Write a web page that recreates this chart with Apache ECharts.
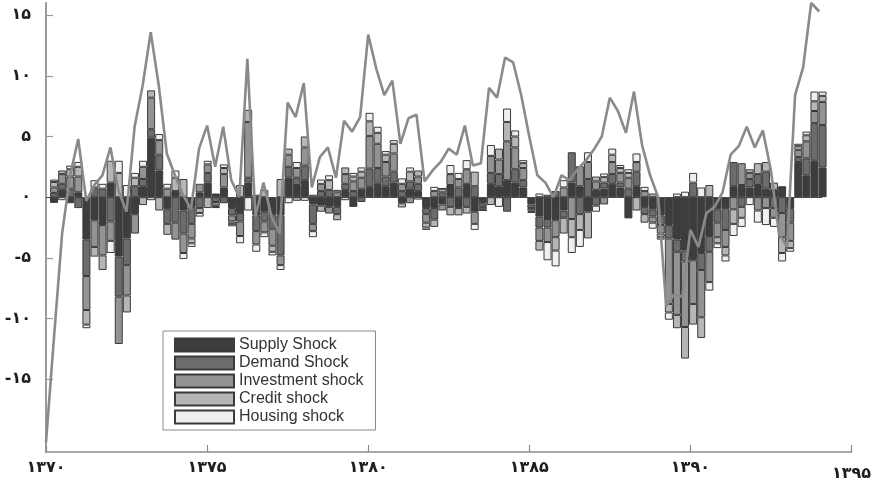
<!DOCTYPE html>
<html>
<head>
<meta charset="utf-8">
<script src="https://cdn.jsdelivr.net/npm/echarts@6/dist/echarts.min.js"></script>
<style>
  html, body { margin: 0; background: #fff; }
  #chart { width: 874px; height: 487px; }
</style>
</head>
<body>
<div id="chart"></div>
<script>
// quarterly positions (Persian calendar years)
const barX = Array.from({ length: 96 }, (_, i) => 1370 + (i + 1) / 4);
const lineX = Array.from({ length: 97 }, (_, j) => 1370 + j / 4);

const yTicks = [-15, -10, -5, 0, 5, 10, 15];
const shockNames = ['Supply Shock', 'Demand Shock', 'Investment shock', 'Credit shock', 'Housing shock'];

const supply = [-0.47, 0.6, -0.5, 0.4, -3.5, -1.9, -2.3, 1.2, -4.9, -3.4,
  -1.4, 0.9, 4.9, 2.2, -1.0, 0.5, -1.1, -0.8, 0.4, 1.2,
  0.3, 0.8, -0.9, -1.3, 1.2, -1.5, -1.2, -1.4, -1.5, 1.6,
  1.0, 1.4, -0.6, -0.7, -0.8, -0.8, 0.6, -0.8, 0.7, 0.85,
  1.1, 0.9, 1.2, -0.5, 0.7, 0.5, -0.9, -0.9, -0.6, 1.0,
  -0.9, 1.1, -1.2, -0.5, 1.1, 0.9, 1.4, 1.2, 0.8, -0.6,
  -1.6, -1.8, -1.9, -1.1, 1.2, 0.9, -1.2, 0.6, 0.7, 1.1,
  0.8, -1.75, 0.9, -0.8, -1.0, -1.5, -2.3, -3.5, -4.4, -5.2,
  -4.6, -3.2, -1.0, -0.9, 0.9, 1.0, 0.8, 1.0, 0.7, 0.6,
  0.9, -0.9, 2.9, 1.8, 3.0, 2.45];
const demand = [0.35, 0.5, 0.7, -0.9, -3.0, 0.8, 0.7, -2.0, -3.3, -2.2,
  0.9, 0.6, 0.7, 1.3, -1.2, -2.1, -1.9, -1.4, -0.9, 0.8,
  -0.4, -0.5, -0.6, -0.7, 0.4, -1.3, -0.8, -1.2, -3.3, 0.9,
  0.6, 1.2, -1.6, 0.5, 0.6, -0.6, 0.5, 0.5, -0.4, 1.5,
  1.3, 0.8, 0.9, 0.5, 0.6, 0.6, -0.5, -0.95, 0.4, -0.8,
  0.8, -0.8, 0.9, -0.3, 0.9, 1.0, -1.2, 1.1, 0.6, -0.3,
  -0.9, -0.7, 0.5, -0.6, 2.5, -1.4, 1.5, -0.7, 0.5, 0.8,
  0.4, 0.7, 1.2, -0.6, -0.6, -0.8, -1.1, -1.0, -0.9, 1.2,
  -1.4, -1.3, -1.1, -1.8, 2.0, -0.8, 0.7, 0.9, 1.4, -0.9,
  -1.3, -1.2, 0.4, 1.4, 3.1, 3.5];
const investment = [0.45, 0.8, 1.0, 1.3, -2.8, -2.2, -2.5, -1.6, -3.9, -2.5,
  -1.6, 1.0, 2.6, 1.2, 0.7, -1.4, -1.6, -1.2, 0.7, 0.7,
  -0.3, 1.1, -0.5, -1.2, 4.6, -1.1, -0.9, -1.4, -0.8, 1.0,
  0.8, 1.5, -0.6, 0.6, -0.55, 0.4, 0.8, 0.8, 0.9, 2.7,
  2.0, 1.2, 1.5, 0.6, -0.5, 0.6, -0.7, 0.5, -0.5, 0.9,
  0.7, 1.2, -1.0, -0.2, 1.4, 1.2, 3.2, 1.8, 1.0, -0.2,
  -1.1, -1.2, -1.4, 0.8, -1.8, 1.65, 1.4, 0.7, -0.6, 1.0,
  0.8, 0.9, 0.8, 0.5, -0.5, -0.7, -5.4, -5.2, -5.4, -3.6,
  -3.9, -2.5, -1.2, -1.4, -1.0, 1.8, 0.5, -1.1, -0.9, -0.8,
  -2.0, -1.5, 0.6, 1.4, 1.0, 1.9];
const credit = [0.45, 0.3, 0.6, 0.8, -1.2, -0.8, -1.2, 1.8, 2.0, -1.4,
  0.7, -0.65, 0.6, -1.1, -0.9, 1.1, 1.5, -0.4, -0.4, -0.9,
  -0.1, 0.5, -0.2, 1.0, 1.0, 0.2, 0.6, -0.5, 1.5, 0.5,
  -0.3, 0.9, 0.2, -0.5, 0.8, -0.5, 0.55, 0.4, 0.5, 1.2,
  0.9, 0.6, 0.8, -0.35, 0.8, 0.5, -0.4, -0.6, 0.3, -0.7,
  -0.6, -0.55, 1.2, -0.1, -0.65, 0.9, 1.6, 0.9, 0.4, -0.1,
  -0.8, 0.2, -1.1, -1.3, -1.5, -1.3, -2.2, 0.4, 0.45, 0.6,
  0.4, 0.4, -1.1, -0.7, 0.3, -0.3, -0.7, -1.1, -2.6, -1.7,
  -1.7, 1.0, -0.5, -0.7, -1.2, -0.9, 0.3, 0.9, 0.8, 0.6,
  -1.3, -0.6, 0.3, 0.5, 0.8, 0.5];
const housing = [0.2, -0.25, 0.3, 0.4, -0.3, 0.6, 0.4, -1.0, 1.0, 1.0,
  0.4, 0.5, -0.25, 0.5, 0.4, 0.6, -0.5, -0.3, -0.3, 0.3,
  -0.1, 0.3, -0.2, -0.6, -1.1, -0.6, -0.4, -0.3, -0.4, -0.5,
  0.5, -0.3, -0.5, 0.35, 0.4, 0.2, -0.25, 0.3, 0.35, 0.7,
  0.5, 0.3, 0.3, 0.45, 0.35, -0.2, -0.2, 0.35, 0.0, 0.75,
  0.5, 0.75, -0.5, 0.0, 0.9, -0.8, 1.1, 0.5, 0.25, -0.1,
  0.3, -1.5, -1.3, 0.6, -1.3, -1.4, 0.8, -0.5, 0.3, 0.5,
  0.25, 0.3, 0.7, 0.35, -0.5, -0.2, -0.6, 0.3, 0.45, 0.8,
  0.8, -0.7, -0.4, -0.5, -1.0, -0.75, -0.65, -1.0, -1.4, -0.75,
  -0.7, -0.3, 0.2, 0.3, 0.8, 0.35];

// actual series (grey line)
const actual = [-20.2, -11.5, -3.0, 1.8, 4.8, -0.3, 1.0, 1.8, 4.1, 0.5,
  -1.2, 5.8, 9.2, 13.6, 9.2, 3.6, 1.8, 0.2, -1.0, 4.0,
  5.9, 2.5, 5.8, 1.4, 0.0, 11.4, -1.6, 1.2, -1.6, -3.0,
  7.8, 6.6, 9.4, 0.8, 3.3, 4.1, 1.6, 6.3, 5.4, 6.6,
  13.4, 10.6, 8.4, 9.6, 4.4, 6.5, 6.8, 1.3, 2.2, 2.9,
  4.0, 3.5, 5.9, 2.6, 2.8, 9.0, 8.2, 11.5, 11.1, 8.4,
  5.0, 1.8, 1.2, 0.0, 1.8, 1.4, 2.3, 3.0, 3.9, 5.0,
  8.2, 7.1, 5.3, 8.7, 4.3, 1.8, 0.0, -9.0, -8.0, -8.2,
  -2.7, -4.1, -1.3, -0.8, 0.4, 3.5, 4.2, 5.8, 4.1, 5.5,
  2.2, -3.0, -4.1, 8.4, 10.7, 16.0, 15.3];

const shockValues = [supply, demand, investment, credit, housing];
const shockColors = ['#3d3d3d', '#6c6c6c', '#939393', '#b6b6b6', '#efefef'];

function toPersian(text) {
  return String(text).replace(/\d/g, (d) => '۰۱۲۳۴۵۶۷۸۹'[d]);
}

const labelFont = {
  fontFamily: 'DejaVu Sans',
  fontWeight: 'bold',
  fontSize: 16,
  color: '#1e1e1e',
};

const chart = echarts.init(document.getElementById('chart'));

// bars live on a hidden category axis whose bands line up with the quarters
const barSeries = shockNames.map((name, k) => ({
  name,
  type: 'bar',
  stack: 'shocks',
  xAxisIndex: 1,
  yAxisIndex: 1,
  barWidth: 8,
  itemStyle: {
    color: shockColors[k],
    borderColor: '#3a3a3a',
    borderWidth: 1,
  },
  emphasis: { disabled: true },
  data: shockValues[k],
}));

chart.setOption({
  animation: false,
  backgroundColor: '#fff',
  grid: [
    { left: 46, right: 19, top: 3, bottom: 35 },
    { left: 50, right: 47.4, top: 3, bottom: 35 },
  ],
  legend: {
    orient: 'vertical',
    left: 163,
    top: 331,
    padding: [6, 12, 5, 11],
    itemWidth: 59,
    itemHeight: 13,
    itemGap: 2,
    icon: 'rect',
    borderColor: '#8a8a8a',
    borderWidth: 1,
    backgroundColor: '#fff',
    data: shockNames,
    textStyle: {
      fontFamily: 'Liberation Sans',
      fontSize: 16,
      color: '#333',
    },
  },
  xAxis: [
    {
      type: 'value',
      gridIndex: 0,
      min: 1370,
      max: 1395,
      interval: 5,
      axisLine: { onZero: false, lineStyle: { color: '#8c8c8c', width: 1.5 } },
      axisTick: { inside: true, length: 7, lineStyle: { color: '#8c8c8c', width: 1.2 } },
      splitLine: { show: false },
      axisLabel: {
        ...labelFont,
        margin: 8,
        formatter: (v) => (v === 1395 ? '{low|' + toPersian(v) + '}' : toPersian(v)),
        rich: { low: { ...labelFont, padding: [6, 0, 0, 0] } },
      },
    },
    {
      type: 'category',
      gridIndex: 1,
      show: false,
      data: barX,
    },
  ],
  yAxis: [
    {
      type: 'value',
      gridIndex: 0,
      min: -21,
      max: 16,
      axisLine: { show: true, lineStyle: { color: '#9a9a9a', width: 2 } },
      axisTick: {
        show: true,
        inside: true,
        length: 7,
        customValues: yTicks,
        lineStyle: { color: '#9a9a9a', width: 1.2 },
      },
      splitLine: { show: false },
      axisLabel: {
        ...labelFont,
        customValues: yTicks,
        margin: 15,
        formatter: (v) => toPersian(v),
      },
    },
    {
      type: 'value',
      gridIndex: 1,
      show: false,
      min: -21,
      max: 16,
      splitLine: { show: false },
    },
  ],
  series: [
    ...barSeries,
    {
      name: 'Actual',
      type: 'line',
      xAxisIndex: 0,
      yAxisIndex: 0,
      data: actual.map((v, j) => [lineX[j], v]),
      showSymbol: false,
      symbol: 'none',
      z: 5,
      lineStyle: { color: '#8a8a8a', width: 2.6 },
      emphasis: { disabled: true },
      markLine: {
        silent: true,
        symbol: ['none', 'none'],
        label: { show: false },
        lineStyle: { color: '#4a4a4a', width: 1, type: 'solid' },
        data: [[{ coord: [1370, 0] }, { coord: [1394.1, 0] }]],
      },
    },
  ],
});
</script>
</body>
</html>
